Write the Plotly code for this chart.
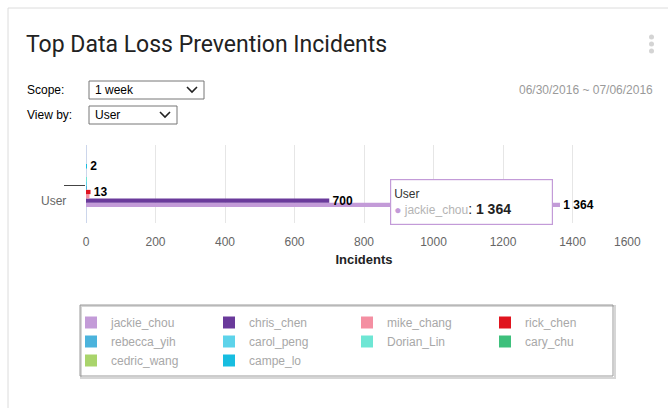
import plotly.graph_objects as go

W, H = 668, 408

categories = ["User"]
series_names = ["jackie_chou", "chris_chen", "mike_chang", "rick_chen", "rebecca_yih",
                "carol_peng", "Dorian_Lin", "cary_chu", "cedric_wang", "campe_lo"]
series_values = [1364, 700, 10, 13, 2, 2, 1, 0, 0, 2]
series_colors = ["#c39bd8", "#6a3a9b", "#f48fa2", "#e0141e", "#4bb3dc",
                 "#5dd3ea", "#6ee6d4", "#3ec07c", "#a9d46b", "#17bde0"]
show_label = [True, True, False, True, False, False, False, False, False, True]
x_tickvals = [0, 200, 400, 600, 800, 1000, 1200, 1400, 1600]
x_ticktext = ["0", "200", "400", "600", "800", "1000", "1200", "1400", "1600"]

FONT = "Liberation Sans, Arial, sans-serif"


def px(x):
    return x / W


def py(y):
    return 1 - y / H


fig = go.Figure()
for name, val, col, lab in zip(series_names, series_values, series_colors, show_label):
    fig.add_trace(go.Bar(
        y=categories, x=[val], name=name, orientation="h",
        marker=dict(color=col, line=dict(width=0)),
        texttemplate="\u00a0%{x:,}" if lab else "",
        textposition="outside", cliponaxis=False, constraintext="none",
        textfont=dict(family=FONT, size=12, color="#000", weight="bold"),
        hoverinfo="skip",
    ))

shapes = []
# card border
shapes.append(dict(type="rect", xref="paper", yref="paper", x0=px(8), x1=px(W + 5),
                   y0=py(8), y1=py(H + 3), line=dict(color="#dcdcdc", width=1)))
# select boxes
for (x0, x1, y0, y1, cx) in [(89, 204, 81, 99, 192), (89, 177, 106, 124, 165)]:
    shapes.append(dict(type="rect", xref="paper", yref="paper", x0=px(x0), x1=px(x1),
                       y0=py(y0), y1=py(y1), line=dict(color="#767676", width=1),
                       fillcolor="white"))
    cy = (y0 + y1) / 2
    shapes.append(dict(type="path", xref="paper", yref="paper",
                       path=f"M {px(cx-5)} {py(cy-3)} L {px(cx)} {py(cy+2)} L {px(cx+5)} {py(cy-3)}",
                       line=dict(color="#222", width=1.6)))
# three dots menu
for dy in (37, 44, 51):
    shapes.append(dict(type="circle", xref="paper", yref="paper", x0=px(649), x1=px(654),
                       y0=py(dy - 2.5), y1=py(dy + 2.5), line=dict(width=0),
                       fillcolor="#d4d4d4"))
# legend box with soft shadow
shapes.append(dict(type="rect", xref="paper", yref="paper", x0=px(81), x1=px(615),
                   y0=py(306), y1=py(378), line=dict(color="#d6d6d6", width=2)))
shapes.append(dict(type="rect", xref="paper", yref="paper", x0=px(80), x1=px(613),
                   y0=py(305), y1=py(376), line=dict(color="#9a9a9a", width=1),
                   fillcolor="rgba(0,0,0,0)"))

annotations = [
    dict(text="Top Data Loss Prevention Incidents", x=px(24), y=py(44), xref="paper", yref="paper",
         xanchor="left", yanchor="middle", showarrow=False,
         font=dict(family="Roboto, sans-serif", size=23, color="#222")),
    dict(text="Scope:", x=px(25), y=py(90), xref="paper", yref="paper", xanchor="left",
         yanchor="middle", showarrow=False, font=dict(family=FONT, size=12, color="#000")),
    dict(text="View by:", x=px(25), y=py(115), xref="paper", yref="paper", xanchor="left",
         yanchor="middle", showarrow=False, font=dict(family=FONT, size=12, color="#000")),
    dict(text="1 week", x=px(93), y=py(90), xref="paper", yref="paper", xanchor="left",
         yanchor="middle", showarrow=False, font=dict(family=FONT, size=12, color="#000")),
    dict(text="User", x=px(93), y=py(115), xref="paper", yref="paper", xanchor="left",
         yanchor="middle", showarrow=False, font=dict(family=FONT, size=12, color="#000")),
    dict(text="06/30/2016 ~ 07/06/2016", x=px(655), y=py(90), xref="paper", yref="paper",
         xanchor="right", yanchor="middle", showarrow=False,
         font=dict(family=FONT, size=12, color="#9a9a9a")),
    dict(text=categories[0], x=px(68), y=py(201), xref="paper", yref="paper", xanchor="right",
         yanchor="middle", showarrow=False, font=dict(family=FONT, size=12, color="#666")),
    # last x tick label, kept inside the plot edge like the original
    dict(text=x_ticktext[-1], x=x_tickvals[-1], y=py(242), xref="x", yref="paper",
         xanchor="right", yanchor="middle", xshift=1, showarrow=False,
         font=dict(family=FONT, size=12, color="#666")),
    # tooltip
    dict(text=(f"<span style='font-size:12px;color:#333'>{categories[0]}</span><br>"
               f"<span style='color:{series_colors[0]}'>●</span> "
               f"<span style='color:#b5b5b5'>{series_names[0]}</span>"
               f"<span style='font-size:14px;color:#222'>: <b>{series_values[0]:,}</b></span>").replace(",", " "),
         x=series_values[0], y=py(205), xref="x", yref="paper",
         ax=-88, ay=-3, showarrow=True, arrowhead=0, arrowwidth=1.2, arrowcolor="#c39bd8",
         align="left", width=155, height=38, valign="middle",
         bgcolor="white", bordercolor="#c39bd8", borderwidth=1.2, borderpad=3,
         font=dict(family=FONT, size=12, color="#333")),
]

fig.update_layout(
    width=W, height=H, margin=dict(l=0, r=0, t=0, b=0, autoexpand=False),
    paper_bgcolor="white", plot_bgcolor="white",
    separators=". ",
    barmode="group", bargap=0.45, bargroupgap=0,
    font=dict(family=FONT, size=12, color="#666"),
    xaxis=dict(domain=[px(86), px(642)], range=[0, 1600], tickvals=x_tickvals[:-1],
               ticktext=x_ticktext[:-1], showgrid=True, gridcolor="#e6e6e6", gridwidth=1,
               zeroline=True, zerolinecolor="#ccd6eb", zerolinewidth=1, showline=False,
               ticks="", ticklabelstandoff=10, automargin=False,
               tickfont=dict(size=12, color="#666"),
               title=dict(text="<b>Incidents</b>", standoff=6,
                          font=dict(size=13, color="#222"))),
    yaxis=dict(domain=[py(223), py(145)], range=[-0.48, 0.52], showticklabels=False,
               showgrid=False, zeroline=False, showline=False, ticks="outside", automargin=False,
               ticklen=21, tickcolor="#444", tickwidth=1),
    legend=dict(orientation="h", x=px(71), y=py(308), xanchor="left", yanchor="top",
                entrywidth=93, entrywidthmode="pixels", borderwidth=0,
                bgcolor="rgba(0,0,0,0)", traceorder="normal",
                font=dict(family=FONT, size=12, color="#a8a8a8")),
    shapes=shapes, annotations=annotations,
)

fig.write_html("out.html", config={"displayModeBar": False},
               post_script="document.body.style.margin='0';document.body.style.overflow='hidden';")
